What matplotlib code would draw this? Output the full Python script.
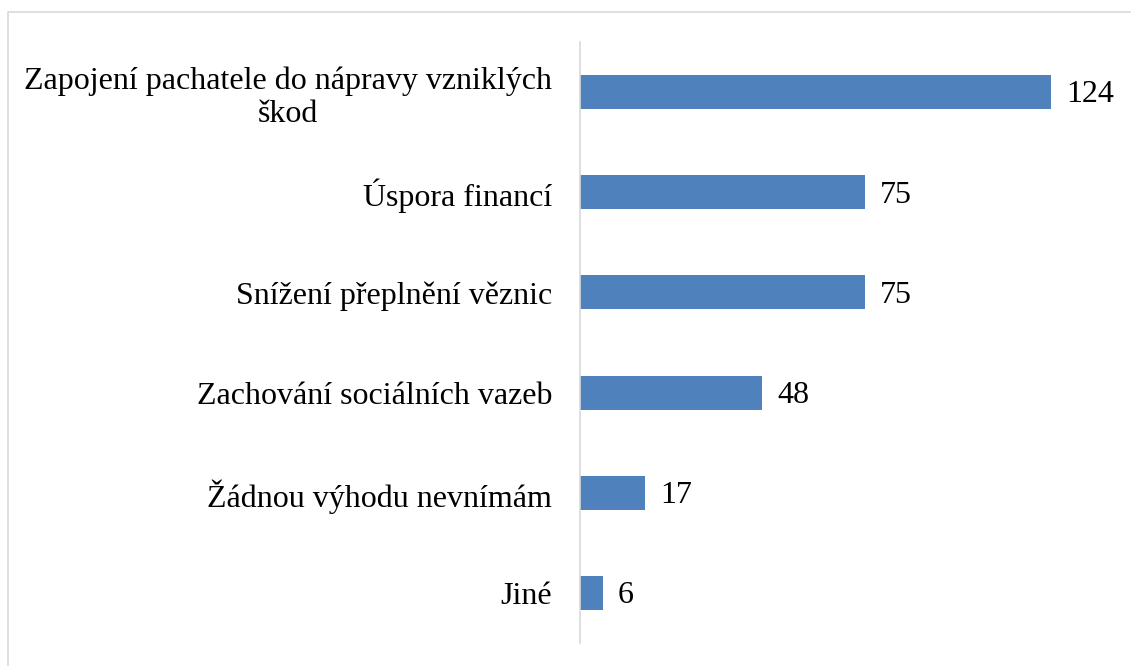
import matplotlib.pyplot as plt
from matplotlib.lines import Line2D

# data
categories = ["Zapojení pachatele do nápravy vzniklých\nškod", "Úspora financí",
              "Snížení přeplnění věznic", "Zachování sociálních vazeb",
              "Žádnou výhodu nevnímám", "Jiné"]
values = [124, 75, 75, 48, 17, 6]

plt.rcParams['font.family'] = ['Liberation Serif', 'DejaVu Serif']

W, H = 1131, 666
fig = plt.figure(figsize=(W / 100, H / 100), dpi=100)
ax = fig.add_axes([580 / W, 1 - 643 / H, 532 / W, 601 / H])

pos = list(range(len(categories)))
ax.barh(pos, values, height=0.34, color="#4f81bd")
ax.set_ylim(len(categories) - 0.5, -0.5)
ax.set_xlim(0, 140)

ax.set_yticks(pos)
ax.set_yticklabels(categories, fontsize=23, linespacing=1.2)
for lab in ax.get_yticklabels():
    lab.set_horizontalalignment("right")
    lab.set_multialignment("center")
ax.tick_params(axis="y", length=0, pad=20)
ax.set_xticks([])

for s in ["top", "right", "bottom"]:
    ax.spines[s].set_visible(False)
ax.spines["left"].set_color("#d9d9d9")
ax.spines["left"].set_linewidth(1.2)

for p, v in zip(pos, values):
    ax.annotate(str(v), (v, p), xytext=(11, -2), textcoords="offset points",
                va="center", ha="left", fontsize=23)

# outer chart border (only top and left visible)
fig.lines.append(Line2D([8 / W, 8 / W, 1], [0, 1 - 12 / H, 1 - 12 / H],
                        transform=fig.transFigure, color="#d9d9d9", linewidth=1.2))

fig.savefig("out.png", dpi=100)
